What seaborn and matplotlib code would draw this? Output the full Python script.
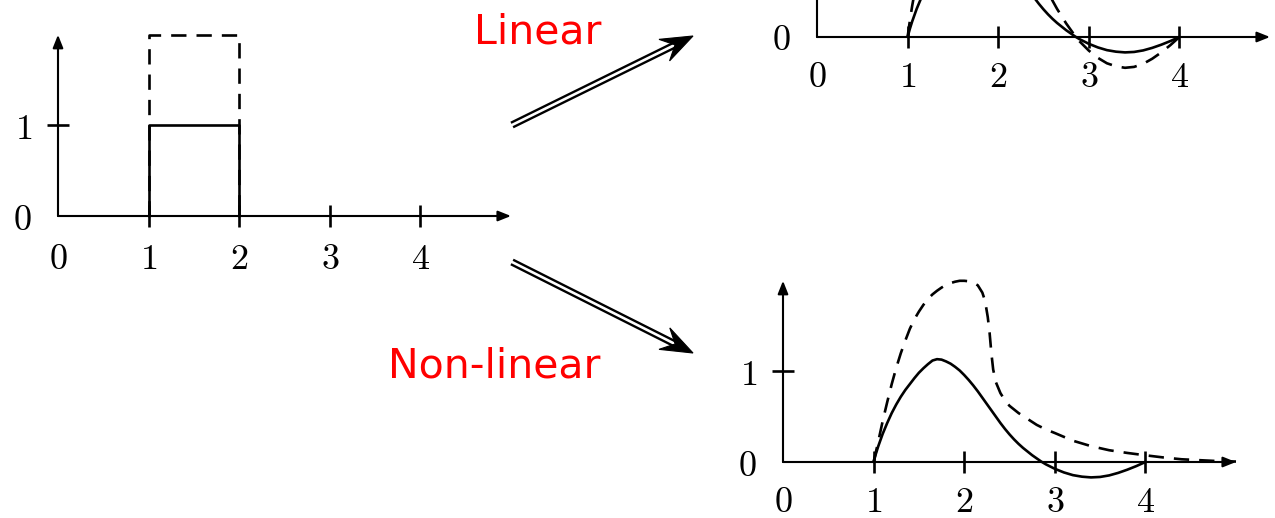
import numpy as np
import matplotlib
matplotlib.use("Agg")
import matplotlib.pyplot as plt
from matplotlib.patches import Polygon
import seaborn as sns

sns.set_theme(style="white")
plt.rcParams["mathtext.fontset"] = "cm"
plt.rcParams["font.family"] = ["DejaVu Sans"]

# ---- data -------------------------------------------------------------
tick_values = [0, 1, 2, 3, 4]
ytick_values = [0, 1]

# rectangular input pulse (small and large amplitude)
pulse_t = [1.0, 1.0, 2.0, 2.0]
pulse_small = [0.0, 1.0, 1.0, 0.0]
pulse_large = [0.0, 2.0, 2.0, 0.0]

# response of the system to the pulse
resp_t = [1.0, 1.025, 1.05, 1.1, 1.15, 1.2, 1.25, 1.3, 1.35, 1.4, 1.45, 1.5,
          1.55, 1.6, 1.65, 1.7, 1.75, 1.8, 1.85, 1.9, 1.95, 2.0, 2.05, 2.1,
          2.15, 2.2, 2.25, 2.3, 2.35, 2.4, 2.45, 2.5, 2.55, 2.6, 2.65, 2.7,
          2.75, 2.8, 2.85, 2.9, 2.95, 3.0, 3.1, 3.2, 3.3, 3.4, 3.5, 3.6, 3.7,
          3.8, 3.9, 4.0]
small_response = [0.0, 0.09, 0.17, 0.31, 0.43, 0.54, 0.635, 0.72, 0.795,
                  0.86, 0.925, 0.985, 1.035, 1.08, 1.12, 1.135, 1.13, 1.11,
                  1.085, 1.05, 1.01, 0.96, 0.905, 0.845, 0.78, 0.71, 0.64,
                  0.57, 0.50, 0.43, 0.365, 0.305, 0.25, 0.20, 0.155, 0.115,
                  0.075, 0.04, 0.005, -0.025, -0.05, -0.075, -0.115, -0.145,
                  -0.162, -0.17, -0.165, -0.148, -0.12, -0.085, -0.045, 0.0]
linear_large = [0.0, 0.18, 0.34, 0.62, 0.86, 1.08, 1.27, 1.44, 1.59, 1.72,
                1.85, 1.97, 2.07, 2.16, 2.24, 2.27, 2.26, 2.22, 2.17, 2.10,
                2.02, 1.92, 1.81, 1.69, 1.56, 1.42, 1.28, 1.14, 1.00, 0.86,
                0.73, 0.61, 0.50, 0.40, 0.31, 0.23, 0.15, 0.08, 0.01, -0.05,
                -0.10, -0.15, -0.23, -0.29, -0.324, -0.34, -0.33, -0.296,
                -0.24, -0.17, -0.09, 0.0]

nonlin_t = [1.0, 1.05, 1.1, 1.15, 1.2, 1.25, 1.3, 1.35, 1.4, 1.45, 1.5, 1.55,
            1.6, 1.65, 1.7, 1.75, 1.8, 1.85, 1.9, 1.95, 2.0, 2.05, 2.1, 2.15,
            2.2, 2.22, 2.24, 2.26, 2.28, 2.3, 2.32, 2.35, 2.4, 2.45, 2.5, 2.6,
            2.7, 2.8, 2.9, 3.0, 3.2, 3.4, 3.6, 3.8, 4.0, 4.2, 4.4, 4.6, 4.8,
            5.0]
nonlin_large = [0.0, 0.22, 0.45, 0.66, 0.86, 1.04, 1.20, 1.34, 1.47, 1.575,
                1.66, 1.735, 1.80, 1.85, 1.89, 1.925, 1.955, 1.975, 1.99, 2.0,
                2.0, 1.995, 1.98, 1.95, 1.87, 1.81, 1.72, 1.60, 1.43, 1.20,
                1.02, 0.88, 0.76, 0.68, 0.62, 0.54, 0.475, 0.41, 0.36, 0.32,
                0.235, 0.175, 0.13, 0.10, 0.074, 0.05, 0.03, 0.02, 0.01,
                0.005]

# ---- layout (pixels) --------------------------------------------------
W, H = 1275, 518
U = 90.6                 # pixels per data unit
XMAX, YMAX = 5.0, 2.0

AX_LW = 1.9
CURVE_LW = 1.9
DASH = (0, (5.8, 3.8))

fig = plt.figure(figsize=(W / 100, H / 100), dpi=100)
fig.patch.set_facecolor("white")


def make_panel(ox, oy, xpad):
    ax = fig.add_axes([ox / W, (H - oy) / H, XMAX * U / W, YMAX * U / H])
    ax.set_xlim(0, XMAX)
    ax.set_ylim(0, YMAX)
    ax.patch.set_alpha(0)
    for s in ax.spines.values():
        s.set_visible(False)
    ax.set_xticks(tick_values, [f"${v}$" for v in tick_values])
    ax.set_yticks(ytick_values, [f"${v}$" for v in ytick_values])
    ax.tick_params(axis="both", direction="inout", length=15.5, width=AX_LW,
                   color="black", labelsize=26, labelcolor="black",
                   bottom=True, left=True, top=False, right=False, pad=11)
    ax.tick_params(axis="x", pad=xpad)
    ax.xaxis.get_major_ticks()[0].tick1line.set_visible(False)
    ax.yaxis.get_major_ticks()[0].tick1line.set_visible(False)
    ax.set_xlabel("")
    ax.set_ylabel("")
    arrow = dict(arrowstyle="-|>,head_length=0.55,head_width=0.22",
                 lw=AX_LW * 0.8, color="black", shrinkA=0, shrinkB=0,
                 mutation_scale=14)
    ax.annotate("", xy=(XMAX, 0), xytext=(0, 0), arrowprops=arrow,
                annotation_clip=False)
    ax.annotate("", xy=(0, YMAX), xytext=(0, 0), arrowprops=arrow,
                annotation_clip=False)
    return ax


def curve(ax, x, y, dashed=False):
    kw = dict(linestyle=DASH) if dashed else {}
    sns.lineplot(x=x, y=y, ax=ax, color="black", lw=CURVE_LW, sort=False,
                 estimator=None, clip_on=False, **kw)


# input pulse
ax_in = make_panel(58, 216, xpad=11)
curve(ax_in, pulse_t, pulse_large, dashed=True)
curve(ax_in, pulse_t, pulse_small)

# linear system response
ax_lin = make_panel(817, 37, xpad=8.5)
curve(ax_lin, resp_t, linear_large, dashed=True)
curve(ax_lin, resp_t, small_response)

# non-linear system response
ax_nl = make_panel(783, 462, xpad=8.5)
curve(ax_nl, nonlin_t, nonlin_large, dashed=True)
curve(ax_nl, resp_t, small_response)

# ---- overlay: double arrows and labels --------------------------------
ov = fig.add_axes([0, 0, 1, 1])
ov.set_xlim(0, W)
ov.set_ylim(H, 0)
ov.set_axis_off()


def double_arrow(start, tip):
    s = np.array(start, float)
    t = np.array(tip, float)
    u = (t - s) / np.linalg.norm(t - s)
    n = np.array([-u[1], u[0]])
    end = t - 18 * u
    for off in (-2.5, 2.5):
        p0, p1 = s + off * n, end + off * n
        ov.plot([p0[0], p1[0]], [p0[1], p1[1]], color="black", lw=1.7,
                solid_capstyle="butt")
    head = np.array([t, t - 32 * u + 12 * n, t - 20 * u, t - 32 * u - 12 * n])
    ov.add_patch(Polygon(head, closed=True, facecolor="black",
                         edgecolor="black", lw=0.8))


double_arrow((512, 125), (693, 36))
double_arrow((512, 262), (693, 353))

ov.text(602, 43, "Linear", color="#ff0000", fontsize=29.5, ha="right",
        va="baseline")
ov.text(601, 378, "Non-linear", color="#ff0000", fontsize=29.5, ha="right",
        va="baseline")

fig.savefig("out.png", dpi=100, facecolor="white")
